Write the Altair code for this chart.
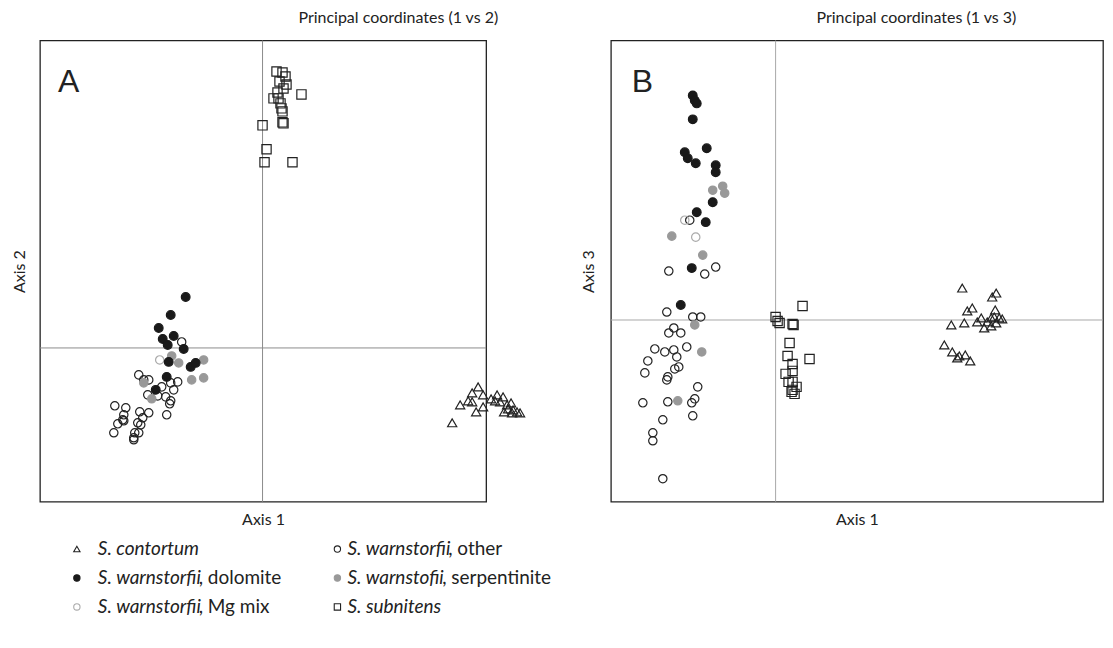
import altair as alt
import pandas as pd

FONT = "Lato"
INK = "#222222"

# ---------------- Panel A : principal coordinates 1 vs 2 ----------------
A_contortum_x = [0.216, 0.210, 0.221, 0.235, 0.241, 0.206, 0.210, 0.229, 0.233, 0.198, 0.221,
                 0.214, 0.245, 0.249, 0.246, 0.251, 0.255, 0.258, 0.242, 0.250, 0.190, 0.238]
A_contortum_y = [-0.039, -0.045, -0.047, -0.047, -0.049, -0.053, -0.054, -0.051, -0.053, -0.057, -0.059,
                 -0.064, -0.057, -0.055, -0.061, -0.062, -0.064, -0.065, -0.064, -0.065, -0.075, -0.054]

A_dolomite_x = [-0.077, -0.092, -0.104, -0.100, -0.089, -0.095, -0.079, -0.094, -0.072, -0.067, -0.096, -0.107]
A_dolomite_y = [0.051, 0.033, 0.020, 0.009, 0.012, 0.003, -0.001, -0.014, -0.019, -0.015, -0.029, -0.042]

A_serp_x = [-0.091, -0.084, -0.059, -0.059, -0.071, -0.119, -0.111]
A_serp_y = [-0.008, -0.015, -0.012, -0.030, -0.032, -0.035, -0.051]

A_mgmix_x = [-0.103]
A_mgmix_y = [-0.012]

A_other_x = [-0.081, -0.124, -0.119, -0.114, -0.085, -0.092, -0.101, -0.089, -0.115, -0.105,
             -0.097, -0.092, -0.093, -0.148, -0.137, -0.123, -0.114, -0.096, -0.139, -0.140,
             -0.120, -0.145, -0.139, -0.125, -0.122, -0.149, -0.124, -0.128, -0.129, -0.129]
A_other_y = [0.006, -0.027, -0.032, -0.032, -0.034, -0.035, -0.039, -0.042, -0.047, -0.048,
             -0.049, -0.053, -0.056, -0.058, -0.060, -0.064, -0.065, -0.067, -0.067, -0.072,
             -0.070, -0.076, -0.073, -0.075, -0.077, -0.085, -0.085, -0.085, -0.090, -0.092]

A_subnitens_x = [0.014, 0.020, 0.023, 0.017, 0.024, 0.021, 0.039, 0.015, 0.011, 0.016,
                 0.018, 0.019, 0.020, 0.020, 0.021, 0.000, 0.004, 0.002, 0.030]
A_subnitens_y = [0.277, 0.276, 0.272, 0.267, 0.264, 0.260, 0.254, 0.256, 0.250, 0.250,
                 0.245, 0.240, 0.237, 0.226, 0.225, 0.223, 0.199, 0.186, 0.186]

# ---------------- Panel B : principal coordinates 1 vs 3 ----------------
B_contortum_x = [0.187, 0.217, 0.221, 0.197, 0.192, 0.220, 0.176, 0.189, 0.206, 0.202, 0.216, 0.219,
                 0.224, 0.227, 0.212, 0.221, 0.209, 0.216, 0.169, 0.177, 0.184, 0.182, 0.190, 0.195]
B_contortum_y = [0.032, 0.023, 0.027, 0.012, 0.009, 0.010, -0.005, -0.003, 0.002, -0.002, 0.002, 0.003,
                 0.002, 0.001, -0.002, -0.003, -0.008, -0.006, -0.025, -0.032, -0.036, -0.038, -0.035, -0.041]

B_dolomite_x = [-0.083, -0.081, -0.079, -0.083, -0.091, -0.069, -0.088, -0.080, -0.060, -0.060,
                -0.063, -0.079, -0.070, -0.084, -0.095]
B_dolomite_y = [0.225, 0.220, 0.217, 0.201, 0.168, 0.172, 0.162, 0.157, 0.155, 0.148,
                0.118, 0.108, 0.098, 0.052, 0.015]

B_serp_x = [-0.053, -0.051, -0.063, -0.104, -0.073, -0.081, -0.074, -0.098]
B_serp_y = [0.134, 0.127, 0.130, 0.084, 0.065, -0.005, -0.032, -0.081]

B_mgmix_x = [-0.091, -0.080]
B_mgmix_y = [0.100, 0.083]

B_other_x = [-0.086, -0.107, -0.071, -0.060, -0.109, -0.083, -0.075, -0.102, -0.107, -0.095,
             -0.121, -0.111, -0.102, -0.099, -0.089, -0.128, -0.131, -0.097, -0.101, -0.108,
             -0.109, -0.078, -0.133, -0.108, -0.081, -0.084, -0.083, -0.113, -0.123, -0.123, -0.113]
B_other_y = [0.100, 0.049, 0.046, 0.053, 0.008, 0.003, 0.003, -0.008, -0.013, -0.013,
             -0.029, -0.032, -0.030, -0.037, -0.027, -0.041, -0.053, -0.047, -0.049, -0.057,
             -0.060, -0.067, -0.083, -0.082, -0.079, -0.083, -0.096, -0.100, -0.113, -0.121, -0.159]

B_subnitens_x = [0.027, 0.000, 0.002, 0.004, 0.017, 0.018, 0.014, 0.034, 0.012,
                 0.017, 0.017, 0.010, 0.013, 0.017, 0.021, 0.017, 0.016, 0.019]
B_subnitens_y = [0.014, 0.003, -0.001, -0.003, -0.004, -0.005, -0.023, -0.039, -0.036,
                 -0.044, -0.051, -0.054, -0.062, -0.062, -0.067, -0.070, -0.072, -0.074]

# ---------------- Legend ----------------
legend_keys = ["contortum", "dolomite", "mgmix", "other", "serp", "subnitens"]
legend_italic = ["S. contortum", "S. warnstorfii", "S. warnstorfii",
                 "S. warnstorfii", "S. warnstofii", "S. subnitens"]
legend_regular = ["", ", dolomite", ", Mg mix", ", other", ", serpentinite", ""]
legend_row = [0, 1, 2, 0, 1, 2]
legend_sym_x = [37, 37, 37, 298, 298, 298]
legend_txt_x = [58, 58, 58, 308, 308, 308]
legend_reg_x = [0, 159, 159, 409, 403, 0]

# styling per group: (shape, fill, stroke, size)
STYLE = {
    "other": ("circle", "transparent", INK, 70),
    "mgmix": ("circle", "transparent", "#aaaaaa", 70),
    "serp": ("circle", "#999999", "#999999", 70),
    "dolomite": ("circle", "#1a1a1a", "#1a1a1a", 76),
    "subnitens": ("square", "transparent", INK, 86),
    "contortum": ("triangle-up", "transparent", INK, 84),
}
ORDER = ["other", "mgmix", "serp", "dolomite", "subnitens", "contortum"]


def group_frame(xs, ys, key):
    return pd.DataFrame({"x": xs, "y": ys, "g": key})


def panel(groups, xdom, ydom, ytitle, letter, letter_x, title_text, title_dx,
          ytp, rule_color, width):
    xs = alt.Scale(domain=xdom, nice=False, zero=False)
    ys = alt.Scale(domain=ydom, nice=False, zero=False)
    common = dict(labels=False, ticks=False, domain=False, grid=False,
                  titleFont=FONT, titleFontSize=16, titleFontWeight="normal", titleColor=INK)
    xax = alt.Axis(title="Axis 1", titlePadding=10, **common)
    yax = alt.Axis(title=ytitle, titlePadding=ytp, **common)
    X = alt.X("x:Q", scale=xs, axis=xax)
    Y = alt.Y("y:Q", scale=ys, axis=yax)

    layers = [
        alt.Chart(pd.DataFrame({"x": [0]})).mark_rule(color=rule_color, strokeWidth=1).encode(x=X),
        alt.Chart(pd.DataFrame({"y": [0]})).mark_rule(color=rule_color, strokeWidth=1).encode(y=Y),
    ]
    for key in ORDER:
        shape, fill, stroke, size = STYLE[key]
        df = groups[key]
        layers.append(
            alt.Chart(df).mark_point(shape=shape, fill=fill, stroke=stroke, size=size,
                                     strokeWidth=1.2, opacity=1, fillOpacity=1)
            .encode(x=X, y=Y)
        )
    layers.append(
        alt.Chart(pd.DataFrame({"t": [letter]})).mark_text(
            align="left", baseline="alphabetic", fontSize=32, font="Liberation Sans", color=INK
        ).encode(text="t:N", x=alt.value(letter_x), y=alt.value(52))
    )
    return alt.layer(*layers).properties(
        width=width, height=462,
        title=alt.TitleParams(title_text, anchor="start", frame="group", dx=title_dx,
                              font=FONT, fontSize=16, fontWeight="normal", color=INK, offset=14),
        view=alt.ViewBackground(stroke=INK, strokeWidth=1.3),
    )


groupsA = {
    "contortum": group_frame(A_contortum_x, A_contortum_y, "contortum"),
    "dolomite": group_frame(A_dolomite_x, A_dolomite_y, "dolomite"),
    "serp": group_frame(A_serp_x, A_serp_y, "serp"),
    "mgmix": group_frame(A_mgmix_x, A_mgmix_y, "mgmix"),
    "other": group_frame(A_other_x, A_other_y, "other"),
    "subnitens": group_frame(A_subnitens_x, A_subnitens_y, "subnitens"),
}
groupsB = {
    "contortum": group_frame(B_contortum_x, B_contortum_y, "contortum"),
    "dolomite": group_frame(B_dolomite_x, B_dolomite_y, "dolomite"),
    "serp": group_frame(B_serp_x, B_serp_y, "serp"),
    "mgmix": group_frame(B_mgmix_x, B_mgmix_y, "mgmix"),
    "other": group_frame(B_other_x, B_other_y, "other"),
    "subnitens": group_frame(B_subnitens_x, B_subnitens_y, "subnitens"),
}

panelA = panel(groupsA, [-0.223, 0.224], [-0.154, 0.308], "Axis 2", "A", 18,
               "Principal coordinates (1 vs 2)", 259, 12, "#8c8c8c", 447)
panelB = panel(groupsB, [-0.165, 0.328], [-0.182, 0.280], "Axis 3", "B", 21,
               "Principal coordinates (1 vs 3)", 206, 14, "#a8a8a8", 493)

leg = pd.DataFrame({
    "key": legend_keys, "it": legend_italic, "rg": legend_regular,
    "row": legend_row, "sx": legend_sym_x, "tx": legend_txt_x, "rx": legend_reg_x,
})
LX = alt.Scale(domain=[0, 1000], nice=False, zero=False)
LY = alt.Y("row:O", scale=alt.Scale(type="point", padding=0.5), axis=None)
leg_sym = alt.Chart(leg).mark_point(size=40, strokeWidth=1.1, opacity=1, fillOpacity=1).encode(
    x=alt.X("sx:Q", scale=LX, axis=None),
    y=LY,
    shape=alt.Shape("key:N", scale=alt.Scale(domain=ORDER, range=[STYLE[k][0] for k in ORDER]), legend=None),
    fill=alt.Fill("key:N", scale=alt.Scale(domain=ORDER, range=[STYLE[k][1] for k in ORDER]), legend=None),
    stroke=alt.Stroke("key:N", scale=alt.Scale(domain=ORDER, range=[STYLE[k][2] for k in ORDER]), legend=None),
)
leg_it = alt.Chart(leg).mark_text(align="left", baseline="middle", font=FONT, fontSize=19,
                                  fontStyle="italic", color=INK).encode(
    x=alt.X("tx:Q", scale=LX, axis=None), y=LY, text="it:N")
leg_rg = alt.Chart(leg).transform_filter("datum.rg != ''").mark_text(
    align="left", baseline="middle", font=FONT, fontSize=19, color=INK).encode(
    x=alt.X("rx:Q", scale=LX, axis=None), y=LY, text="rg:N")
legend = alt.layer(leg_sym, leg_it, leg_rg).properties(
    width=1000, height=87, view=alt.ViewBackground(strokeWidth=0, stroke="transparent"))

top = alt.hconcat(panelA, panelB, spacing=125, bounds="flush")
chart = alt.vconcat(top, legend, spacing=6).properties(
    padding={"left": 3, "top": 0, "right": 0, "bottom": 0}, background="white"
).configure_view(stroke=None)

chart.save("out.html", embed_options={"renderer": "svg", "actions": False})
